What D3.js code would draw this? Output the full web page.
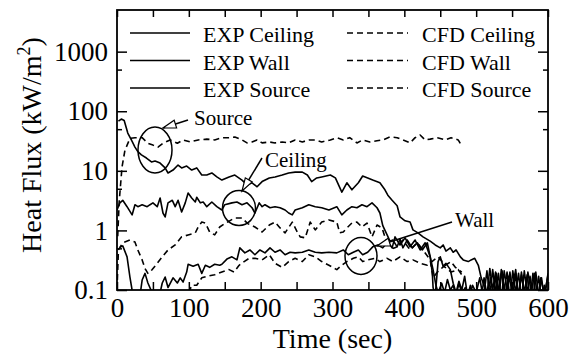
<!DOCTYPE html>
<html>
<head>
<meta charset="utf-8">
<script src="https://cdn.jsdelivr.net/npm/d3@7"></script>
<style>
  body { margin: 0; background: #fff; }
  svg { display: block; }
</style>
</head>
<body>
<svg id="chart" width="572" height="358"></svg>
<script>
// [time (sec), heat flux (kW/m2)]
const expSource = [[2,68],[6,74],[10,70],[15,43],[20,33],[25,25],[29,21],[34,18.5],[41,16.4],[48,14.1],[53,14.6],[60,13.5],[67,11.2],[71,9.2],[78,10.3],[85,12.5],[90,11.2],[97,12],[104,10.3],[111,11.2],[118,8.5],[125,8.5],[132,9.2],[139,7.9],[146,7.0],[156,7.9],[164,8.5],[174,7.0],[181,5.8],[188,6.3],[195,5.4],[202,6.6],[212,7.6],[220,7.9],[230,8.5],[239,9.2],[248,9.5],[258,9.5],[265,8.5],[271,6.6],[278,7.6],[285,7.9],[297,8.5],[304,7.6],[313,4.4],[320,6.3],[327,4.8],[336,6.3],[342,8.2],[349,7.6],[356,7.0],[366,6.3],[373,4.8],[377,3.9],[383,3.2],[390,2.6],[394,1.68],[401,1.45],[408,1.38],[412,1.02],[419,0.91],[426,0.78],[436,0.66],[443,0.57],[450,0.51],[454,0.57],[458,0.45],[464,0.51],[468,0.43],[472,0.47],[478,0.36],[482,0.32],[489,0.30],[493,0.32],[498,0.34],[503,0.26],[507,0.16],[512,0.11],[515,0.07],[520,0.16],[524,0.08],[528,0.19],[532,0.09],[536,0.21],[540,0.08],[545,0.17],[550,0.10],[555,0.22],[559,0.08],[563,0.18],[568,0.07],[572,0.20],[577,0.09],[581,0.19],[586,0.07],[590,0.16],[595,0.08],[600,0.18]];

const expCeiling = [[0,2.2],[4,2.9],[8,3.2],[14,2.5],[21,1.82],[25,2.7],[29,2.5],[35,2.7],[42,2.5],[46,2.7],[50,2.9],[56,2.5],[60,3.5],[64,1.96],[67,1.68],[71,2.9],[77,3.2],[81,2.5],[85,3.2],[90,2.04],[95,2.9],[99,4.25],[104,3.5],[109,3.0],[111,3.6],[116,2.9],[120,3.0],[125,2.5],[132,3.0],[139,2.5],[146,2.2],[150,2.7],[160,2.9],[167,3.0],[174,2.7],[181,2.9],[188,2.4],[192,1.96],[198,2.9],[202,2.5],[206,2.7],[213,2.4],[220,2.5],[227,2.4],[234,2.2],[239,1.96],[244,1.82],[248,2.2],[258,2.4],[267,2.7],[276,2.5],[285,2.4],[295,2.2],[306,2.5],[313,1.82],[320,2.2],[327,2.5],[334,2.4],[341,2.7],[348,2.5],[355,2.9],[362,2.4],[366,1.96],[370,1.2],[376,0.84],[380,0.66],[384,0.69],[390,0.53],[394,0.72],[398,0.51],[404,0.69],[411,0.51],[418,0.62],[425,0.47],[432,0.62],[436,0.36],[440,0.22],[444,0.12],[447,0.09],[452,0.13],[456,0.09],[460,0.15],[464,0.10],[468,0.12],[472,0.08],[476,0.13],[480,0.09],[485,0.11],[490,0.07],[495,0.12],[500,0.09],[505,0.16],[510,0.07],[515,0.21],[519,0.08],[523,0.22],[527,0.09],[531,0.19],[535,0.07],[539,0.21],[543,0.10],[547,0.20],[551,0.08],[555,0.19],[559,0.07],[563,0.20],[567,0.09],[571,0.18],[575,0.07],[579,0.19],[583,0.08],[587,0.17],[591,0.07],[595,0.12],[598,0.07],[600,0.10]];

const expWall = [[4,0.52],[8,0.55],[14,0.36],[18,0.165],[21,0.10],[25,0.07],[32,0.08],[35,0.147],[39,0.19],[43,0.131],[49,0.09],[55,0.07],[60,0.09],[63,0.131],[67,0.165],[71,0.11],[78,0.16],[84,0.131],[88,0.16],[92,0.136],[97,0.20],[99,0.27],[106,0.25],[113,0.27],[118,0.19],[123,0.26],[129,0.24],[136,0.27],[143,0.26],[146,0.27],[153,0.33],[160,0.36],[167,0.32],[171,0.51],[178,0.42],[185,0.47],[192,0.39],[199,0.47],[206,0.42],[213,0.51],[220,0.43],[227,0.47],[234,0.39],[241,0.43],[248,0.42],[258,0.43],[267,0.47],[276,0.43],[285,0.42],[295,0.43],[306,0.42],[315,0.47],[322,0.39],[329,0.43],[336,0.47],[342,0.39],[349,0.43],[356,0.53],[363,0.57],[370,0.51],[377,0.64],[383,0.51],[387,0.78],[394,0.57],[401,0.75],[408,0.53],[415,0.69],[422,0.47],[429,0.62],[436,0.36],[439,0.19],[440,0.11],[443,0.08],[447,0.30],[450,0.36],[454,0.25],[458,0.28],[464,0.22],[468,0.13],[472,0.09],[476,0.14],[480,0.10],[484,0.17],[488,0.08],[492,0.12],[497,0.07],[502,0.10],[507,0.07],[511,0.16],[515,0.08],[519,0.23],[523,0.10],[527,0.20],[531,0.08],[535,0.22],[539,0.10],[543,0.20],[547,0.07],[551,0.21],[555,0.09],[559,0.19],[563,0.07],[567,0.21],[571,0.09],[575,0.17],[579,0.07],[583,0.20],[587,0.08],[591,0.16],[595,0.07],[600,0.19]];

const cfdSource = [[1,0.8],[3,3],[7,11.6],[11,22],[18,35],[25,36],[35,36],[43,29],[50,27],[57,25],[64,29],[74,33],[84,29],[92,33],[102,30.5],[113,33],[125,34],[136,33],[146,36],[156,36],[164,37],[174,33],[181,29.4],[188,30.5],[195,33],[202,29.4],[212,30.5],[220,29.4],[230,30.5],[239,29.4],[248,33],[258,30.5],[267,33],[276,33],[285,30.5],[297,33],[306,36],[315,33],[324,36],[334,29.4],[342,33],[352,30.5],[362,32],[370,33],[380,37],[390,36],[398,33],[408,29.4],[415,36],[422,40],[429,33],[436,34],[446,36],[457,33],[465,36],[475,33],[480,26]];

const cfdCeiling = [[0,0.1],[2,0.47],[8,0.62],[18,0.69],[25,0.64],[29,0.47],[35,0.32],[39,0.23],[43,0.19],[49,0.22],[56,0.28],[63,0.36],[71,0.47],[81,0.57],[90,0.78],[99,0.84],[109,0.91],[113,1.14],[118,1.38],[123,1.33],[129,0.94],[136,0.84],[143,1.14],[150,1.3],[164,1.62],[174,1.62],[182,1.3],[192,1.14],[202,0.94],[212,1.23],[220,1.38],[227,1.10],[234,0.91],[244,1.38],[251,0.94],[255,0.78],[262,0.75],[269,1.38],[276,1.02],[285,1.38],[295,1.5],[306,1.38],[310,0.91],[315,0.94],[320,1.10],[327,1.33],[334,1.38],[341,1.14],[348,1.33],[355,0.78],[362,1.23],[369,1.10],[373,0.78],[377,0.57],[385,0.50],[390,0.53],[398,0.69],[408,0.47],[418,0.62],[426,0.47],[436,0.32],[440,0.16],[446,0.20],[455,0.25],[465,0.20],[475,0.22],[480,0.18]];

const cfdWall = [[100,0.09],[104,0.12],[111,0.12],[118,0.16],[125,0.17],[136,0.18],[146,0.20],[156,0.22],[163,0.20],[170,0.26],[177,0.30],[184,0.34],[192,0.34],[202,0.32],[212,0.39],[220,0.28],[230,0.24],[239,0.30],[248,0.34],[258,0.30],[267,0.39],[276,0.36],[285,0.30],[295,0.26],[306,0.22],[313,0.26],[320,0.30],[329,0.34],[336,0.36],[342,0.30],[349,0.32],[359,0.34],[366,0.30],[376,0.34],[384,0.30],[394,0.36],[404,0.30],[412,0.32],[422,0.28],[432,0.26],[447,0.36],[457,0.26],[465,0.30],[471,0.24],[480,0.20]];

const xMajor = [0, 100, 200, 300, 400, 500, 600];
const xMinor = [50, 150, 250, 350, 450, 550];
const yMajor = [0.1, 1, 10, 100, 1000];
const yMinor = [0.5, 5, 50, 500];

const expLabels = ["EXP Ceiling", "EXP Wall", "EXP Source"];
const cfdLabels = ["CFD Ceiling", "CFD Wall", "CFD Source"];

const FONT = "'Liberation Serif', 'Times New Roman', serif";
const svg = d3.select("#chart");
const m = { left: 117, right: 548, top: 10, bottom: 290 };

const x = d3.scaleLinear().domain([0, 600]).range([m.left, m.right]);
const y = d3.scaleLog().domain([0.1, 5000]).range([m.bottom, m.top]);

svg.append("defs").append("clipPath").attr("id", "plot")
  .append("rect").attr("x", m.left).attr("y", m.top)
  .attr("width", m.right - m.left).attr("height", m.bottom - m.top);

// curves
const line = d3.line().x(d => x(d[0])).y(d => y(d[1]));
const curves = svg.append("g").attr("clip-path", "url(#plot)")
  .attr("fill", "none").attr("stroke", "#000").attr("stroke-width", 1.6)
  .attr("stroke-linejoin", "round");
[cfdSource, cfdCeiling, cfdWall].forEach(s => {
  curves.append("path").attr("d", line(s)).attr("stroke-dasharray", "6,4");
});
[expSource, expCeiling, expWall].forEach(s => {
  curves.append("path").attr("d", line(s));
});

// axes (ticks inward on all sides)
function styleAxis(g) {
  g.select(".domain").remove();
  g.selectAll("line").attr("stroke", "#000").attr("stroke-width", 1.5);
  g.selectAll("text").style("font-family", FONT).style("font-size", "27px").attr("fill", "#000");
}
svg.append("g").attr("transform", `translate(0,${m.bottom})`)
  .call(d3.axisBottom(x).tickValues(xMajor).tickSize(-8).tickPadding(8).tickFormat(d3.format("d")))
  .call(styleAxis);
svg.append("g").attr("transform", `translate(0,${m.bottom})`)
  .call(d3.axisBottom(x).tickValues(xMinor).tickSize(-8).tickFormat(""))
  .call(styleAxis);
svg.append("g").attr("transform", `translate(0,${m.top})`)
  .call(d3.axisTop(x).tickValues(xMajor.concat(xMinor)).tickSize(-7).tickFormat(""))
  .call(styleAxis);
svg.append("g").attr("transform", `translate(${m.left},0)`)
  .call(d3.axisLeft(y).tickValues(yMajor).tickSize(-10).tickPadding(9).tickFormat(d => String(d)))
  .call(styleAxis);
svg.append("g").attr("transform", `translate(${m.left},0)`)
  .call(d3.axisLeft(y).tickValues(yMinor).tickSize(-5).tickFormat(""))
  .call(styleAxis);
svg.append("g").attr("transform", `translate(${m.right},0)`)
  .call(d3.axisRight(y).tickValues(yMajor).tickSize(-10).tickFormat(""))
  .call(styleAxis);
svg.append("g").attr("transform", `translate(${m.right},0)`)
  .call(d3.axisRight(y).tickValues(yMinor).tickSize(-5).tickFormat(""))
  .call(styleAxis);

svg.append("rect").attr("x", m.left).attr("y", m.top)
  .attr("width", m.right - m.left).attr("height", m.bottom - m.top)
  .attr("fill", "none").attr("stroke", "#000").attr("stroke-width", 1.8);

// text helper with inline font
function label(parent, px) {
  return parent.append("text").style("font-family", FONT).style("font-size", px + "px").attr("fill", "#000");
}

// axis titles
label(svg, 28).attr("x", (m.left + m.right) / 2).attr("y", 348)
  .attr("text-anchor", "middle").text("Time (sec)");
const yt = label(svg, 28).attr("transform", "translate(41,145) rotate(-90)")
  .attr("text-anchor", "middle");
yt.append("tspan").text("Heat Flux (kW/m");
yt.append("tspan").style("font-size", "18px").attr("dy", -11).text("2");
yt.append("tspan").attr("dy", 11).text(")");

// legend
const leg = svg.append("g");
expLabels.forEach((t, i) => {
  const yy = 33 + i * 27.5;
  leg.append("line").attr("x1", 130).attr("x2", 190).attr("y1", yy).attr("y2", yy)
    .attr("stroke", "#000").attr("stroke-width", 1.6);
  label(leg, 22).attr("x", 203).attr("y", yy + 9).text(t);
});
cfdLabels.forEach((t, i) => {
  const yy = 33 + i * 27.5;
  leg.append("line").attr("x1", 347).attr("x2", 408).attr("y1", yy).attr("y2", yy)
    .attr("stroke", "#000").attr("stroke-width", 1.6).attr("stroke-dasharray", "6,4");
  label(leg, 22).attr("x", 422).attr("y", yy + 9).text(t);
});

// annotations: circled regions with arrow to label
const notes = [
  { label: "Source",  cx: 155, cy: 150, rx: 17,   ry: 23,   tx: 194, ty: 125, from: [188, 120], to: [163, 128] },
  { label: "Ceiling", cx: 239, cy: 208, rx: 16.5, ry: 17.5, tx: 265, ty: 167, from: [262, 158], to: [242, 191] },
  { label: "Wall",    cx: 361, cy: 256, rx: 16,   ry: 18.5, tx: 455, ty: 227, from: [452, 222], to: [377, 246] }
];
const ann = svg.append("g").attr("fill", "none").attr("stroke", "#000").attr("stroke-width", 1.5);
notes.forEach(n => {
  ann.append("ellipse").attr("cx", n.cx).attr("cy", n.cy).attr("rx", n.rx).attr("ry", n.ry);
  ann.append("line").attr("x1", n.from[0]).attr("y1", n.from[1]).attr("x2", n.to[0]).attr("y2", n.to[1]);
  const a = Math.atan2(n.to[1] - n.from[1], n.to[0] - n.from[0]);
  const L = 13, W = 4;
  const bx = n.to[0] - L * Math.cos(a), by = n.to[1] - L * Math.sin(a);
  const p1 = [bx + W * Math.sin(a), by - W * Math.cos(a)];
  const p2 = [bx - W * Math.sin(a), by + W * Math.cos(a)];
  ann.append("path").attr("d", `M${n.to}L${p1}L${p2}Z`).attr("fill", "#fff").attr("stroke-width", 1.2);
  label(svg, 21).attr("x", n.tx).attr("y", n.ty).text(n.label);
});
</script>
</body>
</html>
